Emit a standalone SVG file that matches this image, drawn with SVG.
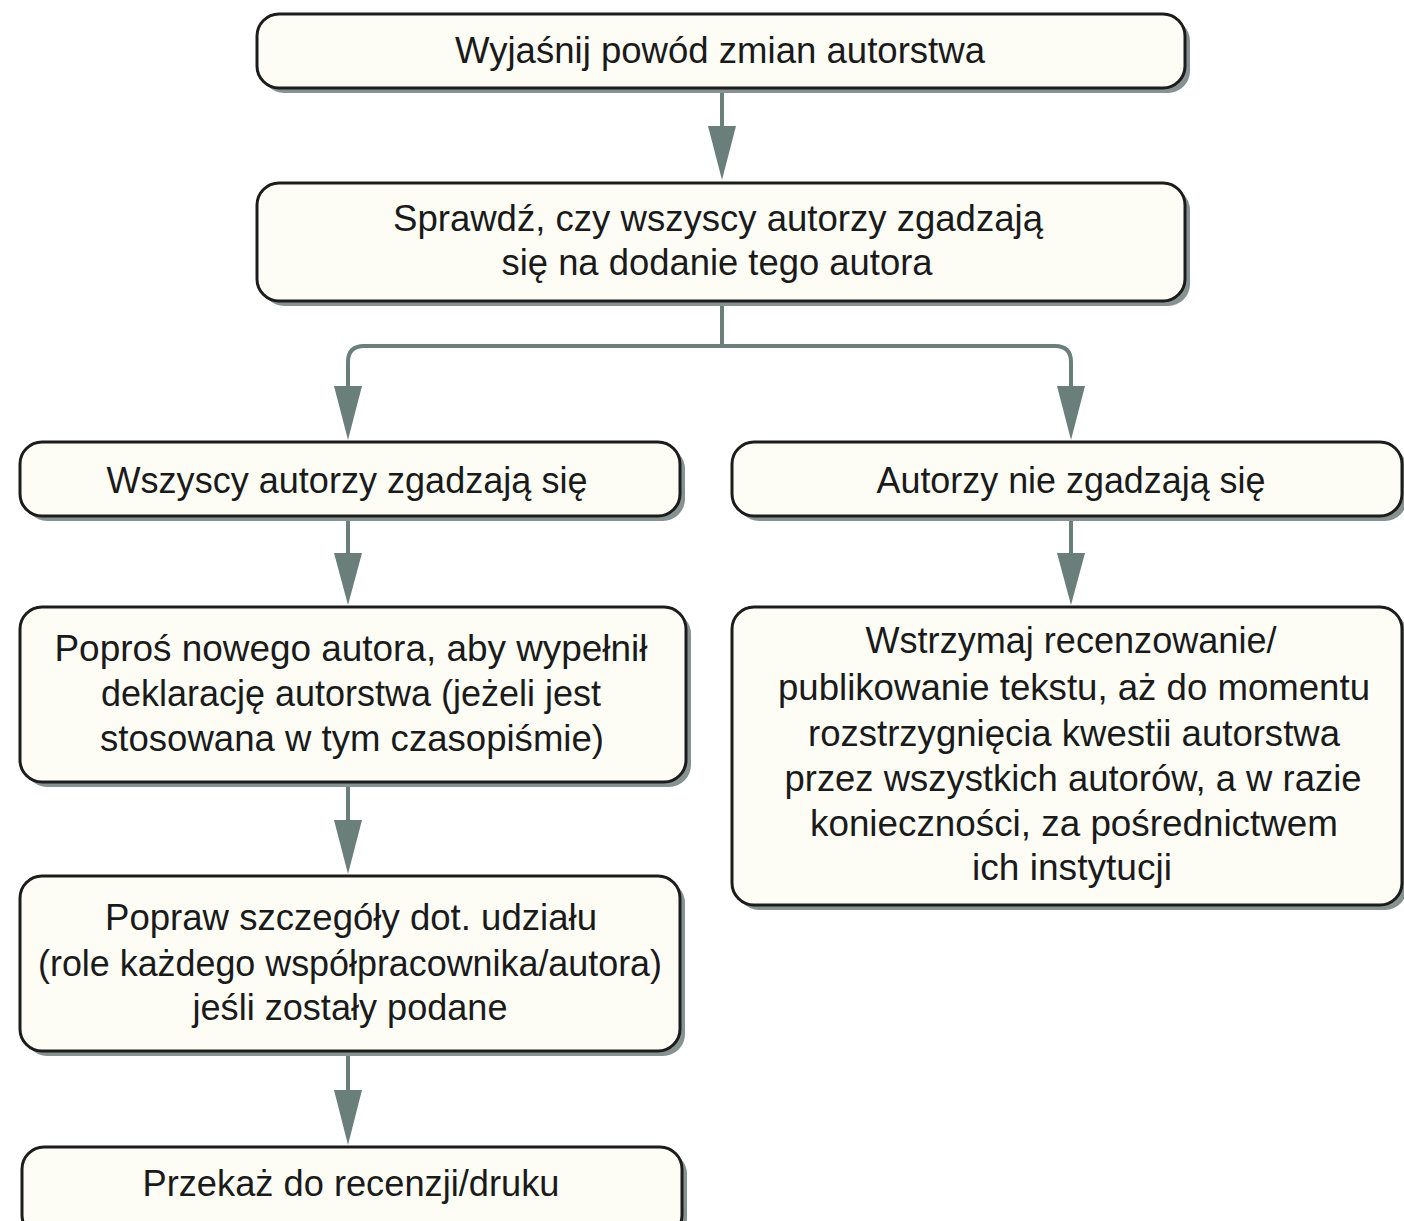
<svg xmlns="http://www.w3.org/2000/svg" width="1404" height="1221" viewBox="0 0 1404 1221">
<style>
.sh{fill:#86928f;stroke:none}
.bx{fill:#fdfdf6;stroke:#1c1c1c;stroke-width:3}
.t{font-family:"Liberation Sans",Arial,sans-serif;font-size:37px;fill:#1a1a1a;text-anchor:middle}
.ln{fill:none;stroke:#6b7f7a;stroke-width:4}
.ah{fill:#6b7f7a;stroke:none}
</style>
<rect width="1404" height="1221" fill="#ffffff"/>
<g id="connectors">
<path class="ln" d="M722,88 V130"/>
<polygon class="ah" points="708,126 736,126 722,180"/>
<path class="ln" d="M722,301 V346 H364 Q348,346 348,362 V392"/>
<path class="ln" d="M722,346 H1055 Q1071,346 1071,362 V392"/>
<polygon class="ah" points="334,386 362,386 348,440"/>
<polygon class="ah" points="1057,386 1085,386 1071,440"/>
<path class="ln" d="M348,516 V558"/>
<polygon class="ah" points="334,553 362,553 348,605"/>
<path class="ln" d="M1071,516 V558"/>
<polygon class="ah" points="1057,553 1085,553 1071,605"/>
<path class="ln" d="M348,783 V825"/>
<polygon class="ah" points="334,820 362,820 348,874"/>
<path class="ln" d="M348,1052 V1094"/>
<polygon class="ah" points="334,1090 362,1090 348,1145"/>
</g>
<g id="n1">
<rect class="sh" x="262" y="19" width="928" height="74" rx="22"/>
<rect class="bx" x="257" y="14" width="928" height="74" rx="22"/>
<text class="t" x="720" y="63" textLength="530" lengthAdjust="spacingAndGlyphs">Wyjaśnij powód zmian autorstwa</text>
</g>
<g id="n2">
<rect class="sh" x="262" y="188" width="928" height="118" rx="22"/>
<rect class="bx" x="257" y="183" width="928" height="118" rx="22"/>
<text class="t" x="718" y="231" textLength="650" lengthAdjust="spacingAndGlyphs">Sprawdź, czy wszyscy autorzy zgadzają</text>
<text class="t" x="717" y="275" textLength="431" lengthAdjust="spacingAndGlyphs">się na dodanie tego autora</text>
</g>
<g id="n3">
<rect class="sh" x="25" y="447" width="660" height="74" rx="22"/>
<rect class="bx" x="20" y="442" width="660" height="74" rx="22"/>
<text class="t" x="347" y="493" textLength="481" lengthAdjust="spacingAndGlyphs">Wszyscy autorzy zgadzają się</text>
</g>
<g id="n4">
<rect class="sh" x="737" y="447" width="670" height="74" rx="22"/>
<rect class="bx" x="732" y="442" width="670" height="74" rx="22"/>
<text class="t" x="1071" y="493" textLength="389" lengthAdjust="spacingAndGlyphs">Autorzy nie zgadzają się</text>
</g>
<g id="n5">
<rect class="sh" x="25" y="612" width="666" height="175" rx="22"/>
<rect class="bx" x="20" y="607" width="666" height="175" rx="22"/>
<text class="t" x="351" y="661" textLength="593" lengthAdjust="spacingAndGlyphs">Poproś nowego autora, aby wypełnił</text>
<text class="t" x="351" y="706" textLength="500" lengthAdjust="spacingAndGlyphs">deklarację autorstwa (jeżeli jest</text>
<text class="t" x="352" y="751" textLength="504" lengthAdjust="spacingAndGlyphs">stosowana w tym czasopiśmie)</text>
</g>
<g id="n6">
<rect class="sh" x="25" y="881" width="660" height="175" rx="22"/>
<rect class="bx" x="20" y="876" width="660" height="175" rx="22"/>
<text class="t" x="351" y="930" textLength="492" lengthAdjust="spacingAndGlyphs">Popraw szczegóły dot. udziału</text>
<text class="t" x="350" y="976" textLength="624" lengthAdjust="spacingAndGlyphs">(role każdego współpracownika/autora)</text>
<text class="t" x="350" y="1020" textLength="315" lengthAdjust="spacingAndGlyphs">jeśli zostały podane</text>
</g>
<g id="n7">
<rect class="sh" x="27" y="1152" width="660" height="90" rx="22"/>
<rect class="bx" x="22" y="1147" width="660" height="90" rx="22"/>
<text class="t" x="351" y="1196" textLength="417" lengthAdjust="spacingAndGlyphs">Przekaż do recenzji/druku</text>
</g>
<g id="n8">
<rect class="sh" x="737" y="612" width="670" height="298" rx="22"/>
<rect class="bx" x="732" y="607" width="670" height="298" rx="22"/>
<text class="t" x="1071" y="653" textLength="411" lengthAdjust="spacingAndGlyphs">Wstrzymaj recenzowanie/</text>
<text class="t" x="1074" y="700" textLength="592" lengthAdjust="spacingAndGlyphs">publikowanie tekstu, aż do momentu</text>
<text class="t" x="1074" y="746" textLength="532" lengthAdjust="spacingAndGlyphs">rozstrzygnięcia kwestii autorstwa</text>
<text class="t" x="1073" y="791" textLength="577" lengthAdjust="spacingAndGlyphs">przez wszystkich autorów, a w razie</text>
<text class="t" x="1074" y="836" textLength="528" lengthAdjust="spacingAndGlyphs">konieczności, za pośrednictwem</text>
<text class="t" x="1072" y="880" textLength="200" lengthAdjust="spacingAndGlyphs">ich instytucji</text>
</g>
</svg>
